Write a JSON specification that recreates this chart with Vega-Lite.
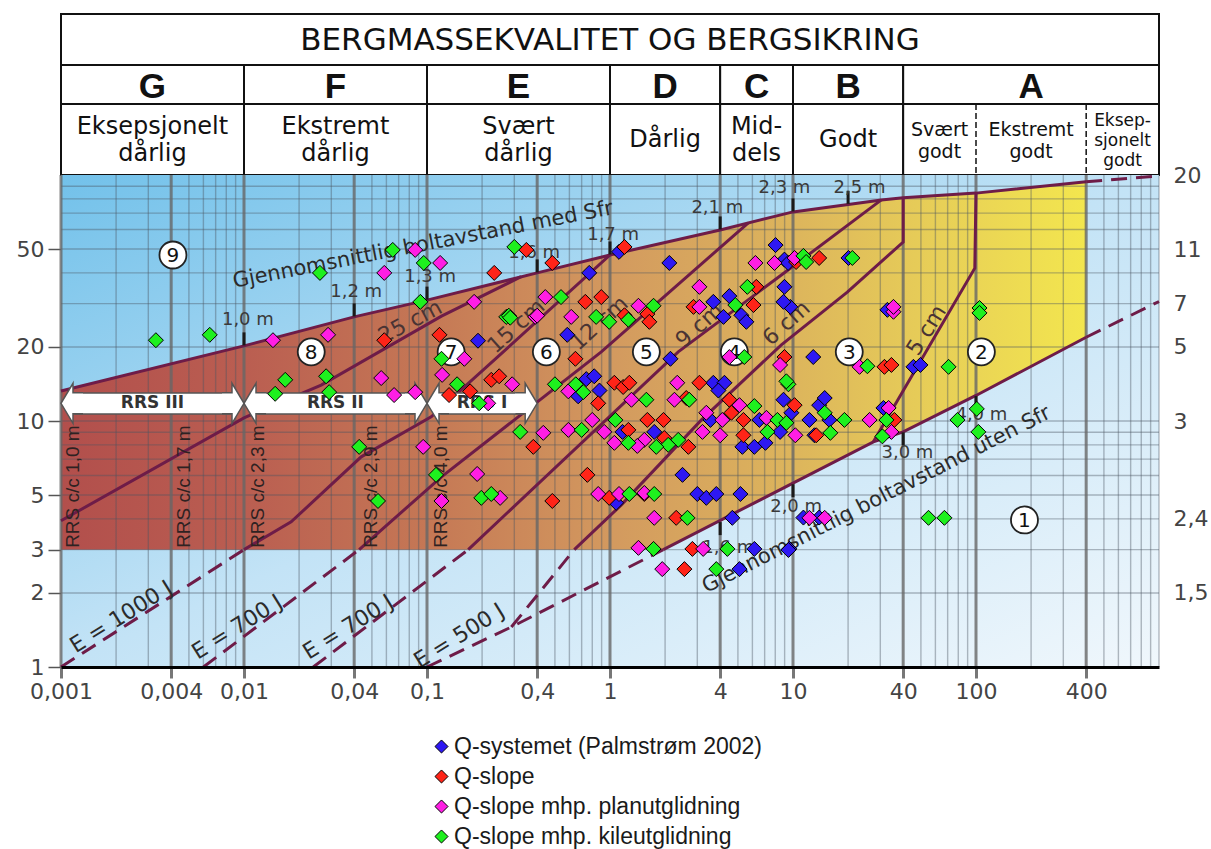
{
  "$schema": "https://vega.github.io/schema/vega-lite/v6.json",
  "background": "#ffffff",
  "padding": {"left": 16, "top": 13, "right": 0, "bottom": 0},
  "spacing": 0,
  "bounds": "flush",
  "config": {"font": "DejaVu Sans"},
  "resolve": {"scale": {"x": "independent"}},
  "datasets": {
    "klasser": [
      {"klasse": "G", "q1": 0.001, "q2": 0.01, "qm": 0.00316, "tekst": "Eksepsjonelt\ndårlig", "linjer": 2},
      {"klasse": "F", "q1": 0.01, "q2": 0.1, "qm": 0.0316, "tekst": "Ekstremt\ndårlig", "linjer": 2},
      {"klasse": "E", "q1": 0.1, "q2": 1, "qm": 0.316, "tekst": "Svært\ndårlig", "linjer": 2},
      {"klasse": "D", "q1": 1, "q2": 4, "qm": 2, "tekst": "Dårlig", "linjer": 1},
      {"klasse": "C", "q1": 4, "q2": 10, "qm": 6.32, "tekst": "Mid-\ndels", "linjer": 2},
      {"klasse": "B", "q1": 10, "q2": 40, "qm": 20, "tekst": "Godt", "linjer": 1},
      {"klasse": "A", "q1": 40, "q2": 1000, "qm": 200, "tekst": "", "linjer": 1}
    ],
    "underklasser": [
      {"q1": 40, "q2": 100, "qm": 63.2, "tekst": "Svært\ngodt", "linjer": 2},
      {"q1": 100, "q2": 400, "qm": 200, "tekst": "Ekstremt\ngodt", "linjer": 2},
      {"q1": 400, "q2": 1000, "qm": 632, "tekst": "Eksep-\nsjonelt\ngodt", "linjer": 3}
    ],
    "sone": [
      {"q": 0.001, "ovre": 13.24, "nedre": 3},
      {"q": 0.01, "ovre": 20.2, "nedre": 3},
      {"q": 0.04, "ovre": 26.5, "nedre": 3},
      {"q": 0.1, "ovre": 31.0, "nedre": 3},
      {"q": 0.4, "ovre": 40.0, "nedre": 3},
      {"q": 1, "ovre": 47.3, "nedre": 3},
      {"q": 1.955, "ovre": 52.9, "nedre": 3},
      {"q": 4, "ovre": 59.8, "nedre": 3.9},
      {"q": 10, "ovre": 70.8, "nedre": 5.56},
      {"q": 27.5, "ovre": 78.4, "nedre": 8.23},
      {"q": 30.4, "ovre": 79.2, "nedre": 8.43},
      {"q": 40, "ovre": 80.8, "nedre": 9.03},
      {"q": 100, "ovre": 84.4, "nedre": 12.7},
      {"q": 400, "ovre": 93.8, "nedre": 21.9}
    ],
    "finrutenett": [
      {"q": 0.002}, {"q": 0.003}, {"q": 0.005}, {"q": 0.006}, {"q": 0.007}, {"q": 0.008}, {"q": 0.009},
      {"q": 0.02}, {"q": 0.03}, {"q": 0.05}, {"q": 0.06}, {"q": 0.07}, {"q": 0.08}, {"q": 0.09},
      {"q": 0.2}, {"q": 0.3}, {"q": 0.5}, {"q": 0.6}, {"q": 0.7}, {"q": 0.8}, {"q": 0.9},
      {"q": 2}, {"q": 3}, {"q": 5}, {"q": 6}, {"q": 7}, {"q": 8}, {"q": 9},
      {"q": 20}, {"q": 30}, {"q": 50}, {"q": 60}, {"q": 70}, {"q": 80}, {"q": 90},
      {"q": 200}, {"q": 300}, {"q": 500}, {"q": 600}, {"q": 700}, {"q": 800}, {"q": 900}, {"q": 1000}
    ],
    "grovrutenett": [
      {"q": 0.001}, {"q": 0.004}, {"q": 0.01}, {"q": 0.04}, {"q": 0.1}, {"q": 0.4},
      {"q": 1}, {"q": 4}, {"q": 10}, {"q": 40}, {"q": 100}, {"q": 400}
    ],
    "esrrutenett": [
      {"esr": 2}, {"esr": 3}, {"esr": 4}, {"esr": 5}, {"esr": 6}, {"esr": 7}, {"esr": 8}, {"esr": 9},
      {"esr": 10}, {"esr": 20}, {"esr": 30}, {"esr": 40}, {"esr": 50}, {"esr": 60}, {"esr": 70}, {"esr": 80}, {"esr": 90}
    ],
    "heltrukne": [
      {"linje": "med Sfr", "q": 0.001, "esr": 13.24},
      {"linje": "med Sfr", "q": 0.01, "esr": 20.2},
      {"linje": "med Sfr", "q": 0.04, "esr": 26.5},
      {"linje": "med Sfr", "q": 0.1, "esr": 31.0},
      {"linje": "med Sfr", "q": 0.4, "esr": 40.0},
      {"linje": "med Sfr", "q": 1, "esr": 47.3},
      {"linje": "med Sfr", "q": 4, "esr": 59.8},
      {"linje": "med Sfr", "q": 10, "esr": 70.8},
      {"linje": "med Sfr", "q": 30.4, "esr": 79.2},
      {"linje": "med Sfr", "q": 40, "esr": 80.8},
      {"linje": "med Sfr", "q": 100, "esr": 84.4},
      {"linje": "med Sfr", "q": 400, "esr": 93.8},
      {"linje": "uten Sfr", "q": 1.955, "esr": 3},
      {"linje": "uten Sfr", "q": 27.5, "esr": 8.23},
      {"linje": "uten Sfr", "q": 40, "esr": 9.03},
      {"linje": "uten Sfr", "q": 100, "esr": 12.7},
      {"linje": "uten Sfr", "q": 400, "esr": 21.9},
      {"linje": "25 cm", "q": 0.001, "esr": 3.93},
      {"linje": "25 cm", "q": 0.01, "esr": 10.3},
      {"linje": "25 cm", "q": 0.0264, "esr": 14.0},
      {"linje": "25 cm", "q": 0.12, "esr": 26.7},
      {"linje": "25 cm", "q": 0.327, "esr": 38.6},
      {"linje": "15 cm", "q": 0.01, "esr": 3},
      {"linje": "15 cm", "q": 0.0181, "esr": 3.89},
      {"linje": "15 cm", "q": 0.0437, "esr": 7.15},
      {"linje": "15 cm", "q": 0.1054, "esr": 10.4},
      {"linje": "15 cm", "q": 0.261, "esr": 19.1},
      {"linje": "15 cm", "q": 1, "esr": 47.3},
      {"linje": "12 cm", "q": 0.0426, "esr": 3},
      {"linje": "12 cm", "q": 0.12, "esr": 5.93},
      {"linje": "12 cm", "q": 0.896, "esr": 19.1},
      {"linje": "12 cm", "q": 5.7, "esr": 63.9},
      {"linje": "9 cm", "q": 0.168, "esr": 3},
      {"linje": "9 cm", "q": 2.36, "esr": 19.1},
      {"linje": "9 cm", "q": 8.64, "esr": 39.2},
      {"linje": "9 cm", "q": 30.4, "esr": 79.2},
      {"linje": "6 cm", "q": 0.638, "esr": 3},
      {"linje": "6 cm", "q": 1.15, "esr": 4.55},
      {"linje": "6 cm", "q": 3.16, "esr": 10.1},
      {"linje": "6 cm", "q": 8.64, "esr": 20.4},
      {"linje": "6 cm", "q": 19.8, "esr": 33.4},
      {"linje": "6 cm", "q": 40, "esr": 53.4},
      {"linje": "6 cm", "q": 40, "esr": 80.8},
      {"linje": "5 cm", "q": 27.5, "esr": 8.23},
      {"linje": "5 cm", "q": 98.5, "esr": 41.8},
      {"linje": "5 cm", "q": 100, "esr": 84.4}
    ],
    "stiplede": [
      {"linje": "E1000", "q": 0.001, "esr": 1},
      {"linje": "E1000", "q": 0.01, "esr": 3},
      {"linje": "E700a", "q": 0.006, "esr": 1},
      {"linje": "E700a", "q": 0.0426, "esr": 3},
      {"linje": "E700b", "q": 0.0239, "esr": 1},
      {"linje": "E700b", "q": 0.168, "esr": 3},
      {"linje": "E500", "q": 0.1, "esr": 1},
      {"linje": "E500", "q": 0.289, "esr": 1.454},
      {"linje": "E500", "q": 1.955, "esr": 3},
      {"linje": "E500b", "q": 0.289, "esr": 1.454},
      {"linje": "E500b", "q": 0.638, "esr": 3},
      {"linje": "med Sfr forl", "q": 400, "esr": 93.8},
      {"linje": "med Sfr forl", "q": 1000, "esr": 99.2},
      {"linje": "uten Sfr forl", "q": 400, "esr": 21.9},
      {"linje": "uten Sfr forl", "q": 1000, "esr": 30.6}
    ],
    "merker_ovre": [
      {"q": 0.01, "esr": 20.2}, {"q": 0.04, "esr": 26.5}, {"q": 0.1, "esr": 31.0}, {"q": 0.4, "esr": 40.0},
      {"q": 1, "esr": 47.3}, {"q": 4, "esr": 59.8}, {"q": 10, "esr": 70.8}, {"q": 20, "esr": 76.0}
    ],
    "merker_nedre": [
      {"q": 4, "esr": 3.9}, {"q": 10, "esr": 5.56}, {"q": 40, "esr": 9.03}, {"q": 100, "esr": 12.7}
    ],
    "avstander": [
      {"tekst": "1,0 m", "q": 0.0105, "esr": 25.8},
      {"tekst": "1,2 m", "q": 0.041, "esr": 33.4},
      {"tekst": "1,3 m", "q": 0.104, "esr": 38.5},
      {"tekst": "1,6 m", "q": 0.385, "esr": 48.2},
      {"tekst": "1,7 m", "q": 1.04, "esr": 57.0},
      {"tekst": "2,1 m", "q": 3.86, "esr": 73.5},
      {"tekst": "2,3 m", "q": 8.98, "esr": 88.5},
      {"tekst": "2,5 m", "q": 23.1, "esr": 88.5},
      {"tekst": "1,6 m", "q": 4.43, "esr": 3.05},
      {"tekst": "2,0 m", "q": 10.4, "esr": 4.48},
      {"tekst": "3,0 m", "q": 42.2, "esr": 7.43},
      {"tekst": "4,0 m", "q": 107, "esr": 10.6}
    ],
    "rrs": [
      {"navn": "RRS III", "q1": 0.001, "q2": 0.01, "qm": 0.00316},
      {"navn": "RRS II", "q1": 0.01, "q2": 0.1, "qm": 0.0316},
      {"navn": "RRS I", "q1": 0.1, "q2": 0.4, "qm": 0.2}
    ],
    "rrs_avstand": [
      {"tekst": "RRS  c/c 1,0 m", "q": 0.00116},
      {"tekst": "RRS  c/c 1,7 m", "q": 0.0047},
      {"tekst": "RRS  c/c 2,3 m", "q": 0.0119},
      {"tekst": "RRS  c/c 2,9 m", "q": 0.0496},
      {"tekst": "RRS  c/c 4,0 m", "q": 0.1197}
    ],
    "energi": [
      {"tekst": "E = 1000 J", "q": 0.00213, "esr": 1.6},
      {"tekst": "E = 700 J", "q": 0.00918, "esr": 1.454},
      {"tekst": "E = 700 J", "q": 0.0371, "esr": 1.454},
      {"tekst": "E = 500 J", "q": 0.15, "esr": 1.338}
    ],
    "soner": [
      {"nr": "9", "q": 0.00409, "esr": 47.3},
      {"nr": "8", "q": 0.0233, "esr": 19.1},
      {"nr": "7", "q": 0.1355, "esr": 19.1},
      {"nr": "6", "q": 0.449, "esr": 19.1},
      {"nr": "5", "q": 1.58, "esr": 19.1},
      {"nr": "4", "q": 4.78, "esr": 19.1},
      {"nr": "3", "q": 20.3, "esr": 19.1},
      {"nr": "2", "q": 107, "esr": 19.1},
      {"nr": "1", "q": 184, "esr": 3.96}
    ],
    "punkter": [
      {"serie": "Q-systemet (Palmstrøm 2002)", "q": 0.77, "esr": 40.0},
      {"serie": "Q-systemet (Palmstrøm 2002)", "q": 1.12, "esr": 48.7},
      {"serie": "Q-systemet (Palmstrøm 2002)", "q": 0.19, "esr": 21.2},
      {"serie": "Q-systemet (Palmstrøm 2002)", "q": 0.584, "esr": 22.4},
      {"serie": "Q-systemet (Palmstrøm 2002)", "q": 0.742, "esr": 14.8},
      {"serie": "Q-systemet (Palmstrøm 2002)", "q": 0.82, "esr": 15.2},
      {"serie": "Q-systemet (Palmstrøm 2002)", "q": 0.876, "esr": 13.3},
      {"serie": "Q-systemet (Palmstrøm 2002)", "q": 0.67, "esr": 12.6},
      {"serie": "Q-systemet (Palmstrøm 2002)", "q": 1.17, "esr": 9.03},
      {"serie": "Q-systemet (Palmstrøm 2002)", "q": 1.745, "esr": 9.03},
      {"serie": "Q-systemet (Palmstrøm 2002)", "q": 1.08, "esr": 4.65},
      {"serie": "Q-systemet (Palmstrøm 2002)", "q": 2.11, "esr": 43.9},
      {"serie": "Q-systemet (Palmstrøm 2002)", "q": 2.14, "esr": 17.9},
      {"serie": "Q-systemet (Palmstrøm 2002)", "q": 2.49, "esr": 6.04},
      {"serie": "Q-systemet (Palmstrøm 2002)", "q": 3.0, "esr": 5.05},
      {"serie": "Q-systemet (Palmstrøm 2002)", "q": 3.36, "esr": 4.87},
      {"serie": "Q-systemet (Palmstrøm 2002)", "q": 3.81, "esr": 5.05},
      {"serie": "Q-systemet (Palmstrøm 2002)", "q": 5.16, "esr": 5.05},
      {"serie": "Q-systemet (Palmstrøm 2002)", "q": 4.66, "esr": 4.04},
      {"serie": "Q-systemet (Palmstrøm 2002)", "q": 6.15, "esr": 3.02},
      {"serie": "Q-systemet (Palmstrøm 2002)", "q": 9.55, "esr": 3.02},
      {"serie": "Q-systemet (Palmstrøm 2002)", "q": 5.1, "esr": 2.5},
      {"serie": "Q-systemet (Palmstrøm 2002)", "q": 3.67, "esr": 14.3},
      {"serie": "Q-systemet (Palmstrøm 2002)", "q": 4.22, "esr": 14.3},
      {"serie": "Q-systemet (Palmstrøm 2002)", "q": 3.91, "esr": 13.3},
      {"serie": "Q-systemet (Palmstrøm 2002)", "q": 8.87, "esr": 12.2},
      {"serie": "Q-systemet (Palmstrøm 2002)", "q": 13.9, "esr": 11.6},
      {"serie": "Q-systemet (Palmstrøm 2002)", "q": 3.54, "esr": 10.1},
      {"serie": "Q-systemet (Palmstrøm 2002)", "q": 6.55, "esr": 10.1},
      {"serie": "Q-systemet (Palmstrøm 2002)", "q": 5.29, "esr": 7.85},
      {"serie": "Q-systemet (Palmstrøm 2002)", "q": 6.15, "esr": 7.85},
      {"serie": "Q-systemet (Palmstrøm 2002)", "q": 7.07, "esr": 8.15},
      {"serie": "Q-systemet (Palmstrøm 2002)", "q": 8.5, "esr": 9.03},
      {"serie": "Q-systemet (Palmstrøm 2002)", "q": 12.3, "esr": 10.1},
      {"serie": "Q-systemet (Palmstrøm 2002)", "q": 9.8, "esr": 10.8},
      {"serie": "Q-systemet (Palmstrøm 2002)", "q": 14.9, "esr": 12.4},
      {"serie": "Q-systemet (Palmstrøm 2002)", "q": 15.8, "esr": 10.1},
      {"serie": "Q-systemet (Palmstrøm 2002)", "q": 13.1, "esr": 8.75},
      {"serie": "Q-systemet (Palmstrøm 2002)", "q": 31.2, "esr": 11.3},
      {"serie": "Q-systemet (Palmstrøm 2002)", "q": 11.4, "esr": 4.05},
      {"serie": "Q-systemet (Palmstrøm 2002)", "q": 13.9, "esr": 4.05},
      {"serie": "Q-systemet (Palmstrøm 2002)", "q": 9.44, "esr": 2.99},
      {"serie": "Q-systemet (Palmstrøm 2002)", "q": 45.5, "esr": 16.6},
      {"serie": "Q-systemet (Palmstrøm 2002)", "q": 49.7, "esr": 16.9},
      {"serie": "Q-systemet (Palmstrøm 2002)", "q": 8.98, "esr": 45.3},
      {"serie": "Q-systemet (Palmstrøm 2002)", "q": 9.4, "esr": 43.9},
      {"serie": "Q-systemet (Palmstrøm 2002)", "q": 20.1, "esr": 46.0},
      {"serie": "Q-systemet (Palmstrøm 2002)", "q": 8.98, "esr": 35.1},
      {"serie": "Q-systemet (Palmstrøm 2002)", "q": 9.67, "esr": 29.1},
      {"serie": "Q-systemet (Palmstrøm 2002)", "q": 8.87, "esr": 30.5},
      {"serie": "Q-systemet (Palmstrøm 2002)", "q": 32.8, "esr": 28.3},
      {"serie": "Q-systemet (Palmstrøm 2002)", "q": 12.9, "esr": 18.2},
      {"serie": "Q-systemet (Palmstrøm 2002)", "q": 8.03, "esr": 51.9},
      {"serie": "Q-systemet (Palmstrøm 2002)", "q": 4.49, "esr": 32.2},
      {"serie": "Q-systemet (Palmstrøm 2002)", "q": 3.67, "esr": 30.5},
      {"serie": "Q-systemet (Palmstrøm 2002)", "q": 4.17, "esr": 26.5},
      {"serie": "Q-systemet (Palmstrøm 2002)", "q": 5.22, "esr": 26.9},
      {"serie": "Q-systemet (Palmstrøm 2002)", "q": 5.56, "esr": 25.3},
      {"serie": "Q-slope", "q": 0.0584, "esr": 21.3},
      {"serie": "Q-slope", "q": 0.349, "esr": 49.6},
      {"serie": "Q-slope", "q": 0.484, "esr": 43.9},
      {"serie": "Q-slope", "q": 0.233, "esr": 40.0},
      {"serie": "Q-slope", "q": 1.2, "esr": 51.0},
      {"serie": "Q-slope", "q": 0.117, "esr": 22.4},
      {"serie": "Q-slope", "q": 0.733, "esr": 30.5},
      {"serie": "Q-slope", "q": 0.896, "esr": 31.9},
      {"serie": "Q-slope", "q": 0.647, "esr": 17.9},
      {"serie": "Q-slope", "q": 0.132, "esr": 12.75},
      {"serie": "Q-slope", "q": 0.172, "esr": 13.2},
      {"serie": "Q-slope", "q": 0.2245, "esr": 14.7},
      {"serie": "Q-slope", "q": 0.248, "esr": 15.2},
      {"serie": "Q-slope", "q": 0.862, "esr": 11.8},
      {"serie": "Q-slope", "q": 1.056, "esr": 14.3},
      {"serie": "Q-slope", "q": 1.18, "esr": 13.75},
      {"serie": "Q-slope", "q": 1.275, "esr": 14.3},
      {"serie": "Q-slope", "q": 0.381, "esr": 7.85},
      {"serie": "Q-slope", "q": 1.26, "esr": 9.2},
      {"serie": "Q-slope", "q": 0.752, "esr": 6.04},
      {"serie": "Q-slope", "q": 0.484, "esr": 4.73},
      {"serie": "Q-slope", "q": 0.99, "esr": 4.87},
      {"serie": "Q-slope", "q": 1.6, "esr": 10.1},
      {"serie": "Q-slope", "q": 1.96, "esr": 10.1},
      {"serie": "Q-slope", "q": 2.68, "esr": 7.85},
      {"serie": "Q-slope", "q": 1.98, "esr": 8.53},
      {"serie": "Q-slope", "q": 3.08, "esr": 14.3},
      {"serie": "Q-slope", "q": 2.61, "esr": 12.4},
      {"serie": "Q-slope", "q": 4.49, "esr": 12.2},
      {"serie": "Q-slope", "q": 10.2, "esr": 11.6},
      {"serie": "Q-slope", "q": 4.61, "esr": 10.8},
      {"serie": "Q-slope", "q": 5.36, "esr": 10.1},
      {"serie": "Q-slope", "q": 5.36, "esr": 8.75},
      {"serie": "Q-slope", "q": 13.4, "esr": 8.75},
      {"serie": "Q-slope", "q": 1.54, "esr": 5.05},
      {"serie": "Q-slope", "q": 2.3, "esr": 4.04},
      {"serie": "Q-slope", "q": 2.82, "esr": 3.02},
      {"serie": "Q-slope", "q": 2.55, "esr": 2.5},
      {"serie": "Q-slope", "q": 35.8, "esr": 10.1},
      {"serie": "Q-slope", "q": 10.4, "esr": 44.3},
      {"serie": "Q-slope", "q": 13.9, "esr": 46.0},
      {"serie": "Q-slope", "q": 8.98, "esr": 18.2},
      {"serie": "Q-slope", "q": 31.6, "esr": 16.6},
      {"serie": "Q-slope", "q": 34.5, "esr": 16.9},
      {"serie": "Q-slope", "q": 2.86, "esr": 29.1},
      {"serie": "Q-slope", "q": 6.08, "esr": 29.6},
      {"serie": "Q-slope", "q": 6.3, "esr": 35.1},
      {"serie": "Q-slope", "q": 1.6, "esr": 27.2},
      {"serie": "Q-slope", "q": 1.64, "esr": 25.3},
      {"serie": "Q-slope", "q": 1.2, "esr": 26.9},
      {"serie": "Q-slope mhp. planutglidning", "q": 0.0144, "esr": 21.3},
      {"serie": "Q-slope mhp. planutglidning", "q": 0.0288, "esr": 22.4},
      {"serie": "Q-slope mhp. planutglidning", "q": 0.0584, "esr": 40.0},
      {"serie": "Q-slope mhp. planutglidning", "q": 0.0862, "esr": 49.6},
      {"serie": "Q-slope mhp. planutglidning", "q": 0.118, "esr": 43.9},
      {"serie": "Q-slope mhp. planutglidning", "q": 0.0562, "esr": 14.95},
      {"serie": "Q-slope mhp. planutglidning", "q": 0.121, "esr": 15.4},
      {"serie": "Q-slope mhp. planutglidning", "q": 0.181, "esr": 30.5},
      {"serie": "Q-slope mhp. planutglidning", "q": 0.443, "esr": 31.9},
      {"serie": "Q-slope mhp. planutglidning", "q": 1.43, "esr": 29.4},
      {"serie": "Q-slope mhp. planutglidning", "q": 0.39, "esr": 26.5},
      {"serie": "Q-slope mhp. planutglidning", "q": 0.4, "esr": 26.8},
      {"serie": "Q-slope mhp. planutglidning", "q": 0.614, "esr": 26.5},
      {"serie": "Q-slope mhp. planutglidning", "q": 0.16, "esr": 17.9},
      {"serie": "Q-slope mhp. planutglidning", "q": 0.292, "esr": 14.1},
      {"serie": "Q-slope mhp. planutglidning", "q": 0.0661, "esr": 12.75},
      {"serie": "Q-slope mhp. planutglidning", "q": 0.0862, "esr": 13.1},
      {"serie": "Q-slope mhp. planutglidning", "q": 0.216, "esr": 11.8},
      {"serie": "Q-slope mhp. planutglidning", "q": 0.592, "esr": 13.2},
      {"serie": "Q-slope mhp. planutglidning", "q": 1.31, "esr": 12.2},
      {"serie": "Q-slope mhp. planutglidning", "q": 0.432, "esr": 8.95},
      {"serie": "Q-slope mhp. planutglidning", "q": 0.592, "esr": 9.2},
      {"serie": "Q-slope mhp. planutglidning", "q": 0.8, "esr": 10.1},
      {"serie": "Q-slope mhp. planutglidning", "q": 0.93, "esr": 9.03},
      {"serie": "Q-slope mhp. planutglidning", "q": 1.056, "esr": 8.15},
      {"serie": "Q-slope mhp. planutglidning", "q": 1.54, "esr": 8.38},
      {"serie": "Q-slope mhp. planutglidning", "q": 1.41, "esr": 7.92},
      {"serie": "Q-slope mhp. planutglidning", "q": 0.0953, "esr": 7.85},
      {"serie": "Q-slope mhp. planutglidning", "q": 0.188, "esr": 6.09},
      {"serie": "Q-slope mhp. planutglidning", "q": 0.12, "esr": 4.73},
      {"serie": "Q-slope mhp. planutglidning", "q": 0.251, "esr": 4.87},
      {"serie": "Q-slope mhp. planutglidning", "q": 0.862, "esr": 5.05},
      {"serie": "Q-slope mhp. planutglidning", "q": 1.12, "esr": 5.05},
      {"serie": "Q-slope mhp. planutglidning", "q": 1.54, "esr": 5.1},
      {"serie": "Q-slope mhp. planutglidning", "q": 1.43, "esr": 3.05},
      {"serie": "Q-slope mhp. planutglidning", "q": 1.745, "esr": 4.04},
      {"serie": "Q-slope mhp. planutglidning", "q": 3.23, "esr": 3.02},
      {"serie": "Q-slope mhp. planutglidning", "q": 1.93, "esr": 2.5},
      {"serie": "Q-slope mhp. planutglidning", "q": 2.33, "esr": 14.3},
      {"serie": "Q-slope mhp. planutglidning", "q": 2.25, "esr": 12.2},
      {"serie": "Q-slope mhp. planutglidning", "q": 3.36, "esr": 10.8},
      {"serie": "Q-slope mhp. planutglidning", "q": 3.2, "esr": 9.03},
      {"serie": "Q-slope mhp. planutglidning", "q": 4.11, "esr": 10.1},
      {"serie": "Q-slope mhp. planutglidning", "q": 4.0, "esr": 8.75},
      {"serie": "Q-slope mhp. planutglidning", "q": 5.1, "esr": 11.6},
      {"serie": "Q-slope mhp. planutglidning", "q": 7.16, "esr": 10.3},
      {"serie": "Q-slope mhp. planutglidning", "q": 10.3, "esr": 8.75},
      {"serie": "Q-slope mhp. planutglidning", "q": 12.3, "esr": 4.04},
      {"serie": "Q-slope mhp. planutglidning", "q": 14.9, "esr": 4.04},
      {"serie": "Q-slope mhp. planutglidning", "q": 26.2, "esr": 10.1},
      {"serie": "Q-slope mhp. planutglidning", "q": 33.3, "esr": 11.3},
      {"serie": "Q-slope mhp. planutglidning", "q": 34.5, "esr": 9.03},
      {"serie": "Q-slope mhp. planutglidning", "q": 10.2, "esr": 46.0},
      {"serie": "Q-slope mhp. planutglidning", "q": 35.4, "esr": 27.8},
      {"serie": "Q-slope mhp. planutglidning", "q": 35.4, "esr": 29.1},
      {"serie": "Q-slope mhp. planutglidning", "q": 8.5, "esr": 16.9},
      {"serie": "Q-slope mhp. planutglidning", "q": 23.1, "esr": 16.6},
      {"serie": "Q-slope mhp. planutglidning", "q": 3.08, "esr": 35.1},
      {"serie": "Q-slope mhp. planutglidning", "q": 3.08, "esr": 29.1},
      {"serie": "Q-slope mhp. planutglidning", "q": 4.49, "esr": 18.2},
      {"serie": "Q-slope mhp. planutglidning", "q": 6.23, "esr": 43.9},
      {"serie": "Q-slope mhp. planutglidning", "q": 7.92, "esr": 43.9},
      {"serie": "Q-slope mhp. kileutglidning", "q": 0.0033, "esr": 21.3},
      {"serie": "Q-slope mhp. kileutglidning", "q": 0.0065, "esr": 22.4},
      {"serie": "Q-slope mhp. kileutglidning", "q": 0.026, "esr": 40.0},
      {"serie": "Q-slope mhp. kileutglidning", "q": 0.065, "esr": 49.6},
      {"serie": "Q-slope mhp. kileutglidning", "q": 0.096, "esr": 43.9},
      {"serie": "Q-slope mhp. kileutglidning", "q": 0.092, "esr": 30.5},
      {"serie": "Q-slope mhp. kileutglidning", "q": 0.0168, "esr": 14.7},
      {"serie": "Q-slope mhp. kileutglidning", "q": 0.0281, "esr": 15.2},
      {"serie": "Q-slope mhp. kileutglidning", "q": 0.0148, "esr": 12.9},
      {"serie": "Q-slope mhp. kileutglidning", "q": 0.0292, "esr": 13.1},
      {"serie": "Q-slope mhp. kileutglidning", "q": 0.12, "esr": 17.9},
      {"serie": "Q-slope mhp. kileutglidning", "q": 0.3, "esr": 51.0},
      {"serie": "Q-slope mhp. kileutglidning", "q": 0.54, "esr": 31.9},
      {"serie": "Q-slope mhp. kileutglidning", "q": 0.271, "esr": 26.5},
      {"serie": "Q-slope mhp. kileutglidning", "q": 0.28, "esr": 26.8},
      {"serie": "Q-slope mhp. kileutglidning", "q": 0.285, "esr": 26.3},
      {"serie": "Q-slope mhp. kileutglidning", "q": 0.84, "esr": 26.5},
      {"serie": "Q-slope mhp. kileutglidning", "q": 0.99, "esr": 25.3},
      {"serie": "Q-slope mhp. kileutglidning", "q": 1.26, "esr": 25.8},
      {"serie": "Q-slope mhp. kileutglidning", "q": 1.73, "esr": 29.4},
      {"serie": "Q-slope mhp. kileutglidning", "q": 0.146, "esr": 14.1},
      {"serie": "Q-slope mhp. kileutglidning", "q": 0.193, "esr": 11.8},
      {"serie": "Q-slope mhp. kileutglidning", "q": 0.5, "esr": 14.1},
      {"serie": "Q-slope mhp. kileutglidning", "q": 0.65, "esr": 14.1},
      {"serie": "Q-slope mhp. kileutglidning", "q": 0.715, "esr": 13.1},
      {"serie": "Q-slope mhp. kileutglidning", "q": 1.58, "esr": 12.2},
      {"serie": "Q-slope mhp. kileutglidning", "q": 0.323, "esr": 9.03},
      {"serie": "Q-slope mhp. kileutglidning", "q": 0.7, "esr": 9.2},
      {"serie": "Q-slope mhp. kileutglidning", "q": 1.07, "esr": 10.1},
      {"serie": "Q-slope mhp. kileutglidning", "q": 1.26, "esr": 8.15},
      {"serie": "Q-slope mhp. kileutglidning", "q": 0.0426, "esr": 7.85},
      {"serie": "Q-slope mhp. kileutglidning", "q": 0.112, "esr": 6.04},
      {"serie": "Q-slope mhp. kileutglidning", "q": 0.054, "esr": 4.73},
      {"serie": "Q-slope mhp. kileutglidning", "q": 0.198, "esr": 4.87},
      {"serie": "Q-slope mhp. kileutglidning", "q": 0.2245, "esr": 5.05},
      {"serie": "Q-slope mhp. kileutglidning", "q": 1.275, "esr": 5.05},
      {"serie": "Q-slope mhp. kileutglidning", "q": 1.745, "esr": 5.05},
      {"serie": "Q-slope mhp. kileutglidning", "q": 2.71, "esr": 12.2},
      {"serie": "Q-slope mhp. kileutglidning", "q": 2.36, "esr": 8.38},
      {"serie": "Q-slope mhp. kileutglidning", "q": 2.08, "esr": 8.0},
      {"serie": "Q-slope mhp. kileutglidning", "q": 1.79, "esr": 7.85},
      {"serie": "Q-slope mhp. kileutglidning", "q": 6.15, "esr": 11.5},
      {"serie": "Q-slope mhp. kileutglidning", "q": 7.25, "esr": 9.03},
      {"serie": "Q-slope mhp. kileutglidning", "q": 8.22, "esr": 10.1},
      {"serie": "Q-slope mhp. kileutglidning", "q": 9.2, "esr": 9.83},
      {"serie": "Q-slope mhp. kileutglidning", "q": 2.65, "esr": 4.04},
      {"serie": "Q-slope mhp. kileutglidning", "q": 1.73, "esr": 3.02},
      {"serie": "Q-slope mhp. kileutglidning", "q": 4.38, "esr": 3.02},
      {"serie": "Q-slope mhp. kileutglidning", "q": 3.81, "esr": 2.5},
      {"serie": "Q-slope mhp. kileutglidning", "q": 9.44, "esr": 14.1},
      {"serie": "Q-slope mhp. kileutglidning", "q": 14.9, "esr": 10.8},
      {"serie": "Q-slope mhp. kileutglidning", "q": 19.1, "esr": 10.1},
      {"serie": "Q-slope mhp. kileutglidning", "q": 16.0, "esr": 8.95},
      {"serie": "Q-slope mhp. kileutglidning", "q": 32.4, "esr": 10.1},
      {"serie": "Q-slope mhp. kileutglidning", "q": 30.8, "esr": 8.66},
      {"serie": "Q-slope mhp. kileutglidning", "q": 79.2, "esr": 10.1},
      {"serie": "Q-slope mhp. kileutglidning", "q": 101, "esr": 11.2},
      {"serie": "Q-slope mhp. kileutglidning", "q": 103, "esr": 9.03},
      {"serie": "Q-slope mhp. kileutglidning", "q": 55.0, "esr": 4.04},
      {"serie": "Q-slope mhp. kileutglidning", "q": 67.2, "esr": 4.04},
      {"serie": "Q-slope mhp. kileutglidning", "q": 11.4, "esr": 46.9},
      {"serie": "Q-slope mhp. kileutglidning", "q": 11.8, "esr": 44.3},
      {"serie": "Q-slope mhp. kileutglidning", "q": 21.1, "esr": 46.0},
      {"serie": "Q-slope mhp. kileutglidning", "q": 104.5, "esr": 28.8},
      {"serie": "Q-slope mhp. kileutglidning", "q": 104.5, "esr": 27.5},
      {"serie": "Q-slope mhp. kileutglidning", "q": 25.5, "esr": 16.7},
      {"serie": "Q-slope mhp. kileutglidning", "q": 70.8, "esr": 16.6},
      {"serie": "Q-slope mhp. kileutglidning", "q": 4.84, "esr": 29.6},
      {"serie": "Q-slope mhp. kileutglidning", "q": 5.63, "esr": 35.1},
      {"serie": "Q-slope mhp. kileutglidning", "q": 5.42, "esr": 18.2},
      {"serie": "Q-slope mhp. kileutglidning", "q": 9.2, "esr": 14.5}
    ]
  },
  "vconcat": [
    {
      "width": 1098,
      "height": 51,
      "view": {"stroke": "#111111", "strokeWidth": 2},
      "data": {"values": [{"tittel": "BERGMASSEKVALITET OG BERGSIKRING"}]},
      "mark": {"type": "text", "font": "DejaVu Sans", "fontSize": 31, "color": "#111111", "baseline": "middle", "align": "center", "dy": 1},
      "encoding": {"text": {"field": "tittel"}}
    },
    {
      "width": 1098,
      "height": 39,
      "view": {"stroke": "#111111", "strokeWidth": 2},
      "data": {"name": "klasser"},
      "layer": [
        {
          "mark": {"type": "rect", "fill": "#ffffff", "stroke": "#111111", "strokeWidth": 2},
          "encoding": {
            "x": {"field": "q1", "type": "quantitative", "scale": {"type": "log", "domain": [0.001, 1000], "nice": false}, "axis": null},
            "x2": {"field": "q2"}
          }
        },
        {
          "mark": {"type": "text", "font": "Liberation Sans", "fontWeight": "bold", "fontSize": 35, "color": "#111111", "baseline": "middle", "align": "center", "dy": 2},
          "encoding": {
            "x": {"field": "qm", "type": "quantitative", "scale": {"type": "log", "domain": [0.001, 1000], "nice": false}, "axis": null},
            "text": {"field": "klasse"}
          }
        }
      ]
    },
    {
      "width": 1098,
      "height": 71,
      "view": {"stroke": "#111111", "strokeWidth": 2},
      "layer": [
        {
          "data": {"name": "klasser"},
          "mark": {"type": "rect", "fill": "#ffffff", "stroke": "#111111", "strokeWidth": 2},
          "encoding": {
            "x": {"field": "q1", "type": "quantitative", "scale": {"type": "log", "domain": [0.001, 1000], "nice": false}, "axis": null},
            "x2": {"field": "q2"}
          }
        },
        {
          "data": {"name": "underklasser"},
          "transform": [{"filter": "datum.q1 > 40"}],
          "mark": {"type": "rule", "stroke": "#111111", "strokeWidth": 1.5, "strokeDash": [6, 3]},
          "encoding": {
            "x": {"field": "q1", "type": "quantitative", "scale": {"type": "log", "domain": [0.001, 1000], "nice": false}, "axis": null}
          }
        },
        {
          "data": {"name": "klasser"},
          "transform": [{"filter": "datum.linjer == 1"}],
          "mark": {"type": "text", "font": "DejaVu Sans", "fontSize": 24, "color": "#111111", "baseline": "middle", "align": "center"},
          "encoding": {
            "x": {"field": "qm", "type": "quantitative", "scale": {"type": "log", "domain": [0.001, 1000], "nice": false}, "axis": null},
            "text": {"field": "tekst"}
          }
        },
        {
          "data": {"name": "klasser"},
          "transform": [{"filter": "datum.linjer == 2"}],
          "mark": {"type": "text", "font": "DejaVu Sans", "fontSize": 24, "lineHeight": 27, "lineBreak": "\n", "color": "#111111", "baseline": "middle", "align": "center", "dy": -13},
          "encoding": {
            "x": {"field": "qm", "type": "quantitative", "scale": {"type": "log", "domain": [0.001, 1000], "nice": false}, "axis": null},
            "text": {"field": "tekst"}
          }
        },
        {
          "data": {"name": "underklasser"},
          "transform": [{"filter": "datum.linjer == 2"}],
          "mark": {"type": "text", "font": "DejaVu Sans", "fontSize": 19, "lineHeight": 22, "lineBreak": "\n", "color": "#111111", "baseline": "middle", "align": "center", "dy": -10},
          "encoding": {
            "x": {"field": "qm", "type": "quantitative", "scale": {"type": "log", "domain": [0.001, 1000], "nice": false}, "axis": null},
            "text": {"field": "tekst"}
          }
        },
        {
          "data": {"name": "underklasser"},
          "transform": [{"filter": "datum.linjer == 3"}],
          "mark": {"type": "text", "font": "DejaVu Sans", "fontSize": 17, "lineHeight": 20, "lineBreak": "\n", "color": "#111111", "baseline": "middle", "align": "center", "dy": -19},
          "encoding": {
            "x": {"field": "qm", "type": "quantitative", "scale": {"type": "log", "domain": [0.001, 1000], "nice": false}, "axis": null},
            "text": {"field": "tekst"}
          }
        }
      ]
    },
    {
      "width": 1098,
      "height": 492,
      "view": {"stroke": null},
      "resolve": {"axis": {"y": "independent"}},
      "layer": [
        {
          "data": {"values": [{"flate": "bakgrunn"}]},
          "mark": {
            "type": "rect",
            "fill": {"gradient": "linear", "x1": 0, "y1": 0, "x2": 1, "y2": 1, "stops": [
              {"offset": 0, "color": "#72c1ea"},
              {"offset": 0.5, "color": "#c3e3f6"},
              {"offset": 1, "color": "#f0f7fc"}
            ]}
          },
          "encoding": {
            "x": {"datum": 0.001, "type": "quantitative", "scale": {"type": "log", "domain": [0.001, 1000], "nice": false}, "title": null,
              "axis": {"values": [0.001, 0.004, 0.01, 0.04, 0.1, 0.4, 1, 4, 10, 40, 100, 400], "labelExpr": "replace(toString(datum.value), '.', ',')", "grid": false, "domain": true, "domainColor": "#000000", "domainWidth": 3, "ticks": true, "tickColor": "#777777", "tickWidth": 3, "tickSize": 11, "labelFont": "DejaVu Sans", "labelFontSize": 22, "labelColor": "#444444", "labelPadding": 3, "labelFlush": false, "labelOverlap": false, "zindex": 1, "title": null}},
            "x2": {"datum": 1000},
            "y": {"datum": 1, "type": "quantitative", "scale": {"type": "log", "domain": [1, 100], "nice": false}, "axis": null},
            "y2": {"datum": 100}
          }
        },
        {
          "data": {"name": "sone"},
          "mark": {
            "type": "area",
            "fill": {"gradient": "linear", "x1": 0, "y1": 0, "x2": 1, "y2": 0, "stops": [
              {"offset": 0, "color": "#b24f4c"},
              {"offset": 0.18, "color": "#ba5e51"},
              {"offset": 0.36, "color": "#c57855"},
              {"offset": 0.54, "color": "#d39a5f"},
              {"offset": 0.72, "color": "#ddb65c"},
              {"offset": 0.86, "color": "#e8d057"},
              {"offset": 1, "color": "#f3e64e"}
            ]}
          },
          "encoding": {
            "x": {"field": "q", "type": "quantitative", "scale": {"type": "log", "domain": [0.001, 1000], "nice": false}, "title": null},
            "y": {"field": "ovre", "type": "quantitative", "scale": {"type": "log", "domain": [1, 100], "nice": false}, "axis": null},
            "y2": {"field": "nedre"}
          }
        },
        {
          "data": {"name": "finrutenett"},
          "mark": {"type": "rule", "stroke": "#4a5662", "strokeWidth": 1.4, "opacity": 0.4},
          "encoding": {
            "x": {"field": "q", "type": "quantitative", "scale": {"type": "log", "domain": [0.001, 1000], "nice": false}, "title": null}
          }
        },
        {
          "data": {"name": "esrrutenett"},
          "mark": {"type": "rule", "stroke": "#4a5662", "strokeWidth": 1.4, "opacity": 0.4},
          "encoding": {
            "y": {"field": "esr", "type": "quantitative", "scale": {"type": "log", "domain": [1, 100], "nice": false}, "title": null,
              "axis": {"orient": "right", "values": [2, 4, 10, 20, 30, 50, 100], "labelExpr": "datum.value == 2 ? '1,5' : datum.value == 4 ? '2,4' : datum.value == 10 ? '3' : datum.value == 20 ? '5' : datum.value == 30 ? '7' : datum.value == 50 ? '11' : '20'", "domain": false, "ticks": false, "grid": false, "labelPadding": 14, "labelFont": "DejaVu Sans", "labelFontSize": 22, "labelColor": "#444444", "labelFlush": false, "labelOverlap": false, "title": null}}
          }
        },
        {
          "data": {"name": "grovrutenett"},
          "mark": {"type": "rule", "stroke": "#666666", "strokeWidth": 3, "opacity": 0.8},
          "encoding": {
            "x": {"field": "q", "type": "quantitative", "scale": {"type": "log", "domain": [0.001, 1000], "nice": false}, "title": null}
          }
        },
        {
          "data": {"name": "stiplede"},
          "mark": {"type": "line", "stroke": "#6e1c48", "strokeWidth": 3, "strokeDash": [16, 9]},
          "encoding": {
            "x": {"field": "q", "type": "quantitative", "scale": {"type": "log", "domain": [0.001, 1000], "nice": false}, "title": null},
            "y": {"field": "esr", "type": "quantitative", "scale": {"type": "log", "domain": [1, 100], "nice": false}, "axis": null},
            "detail": {"field": "linje"},
            "order": {"value": null}
          }
        },
        {
          "data": {"name": "heltrukne"},
          "mark": {"type": "line", "stroke": "#6e1c48", "strokeWidth": 3},
          "encoding": {
            "x": {"field": "q", "type": "quantitative", "scale": {"type": "log", "domain": [0.001, 1000], "nice": false}, "title": null},
            "y": {"field": "esr", "type": "quantitative", "scale": {"type": "log", "domain": [1, 100], "nice": false}, "axis": null},
            "detail": {"field": "linje"},
            "order": {"value": null}
          }
        },
        {
          "data": {"name": "merker_ovre"},
          "mark": {"type": "tick", "orient": "vertical", "size": 13, "thickness": 3, "color": "#1a1a1a", "yOffset": -7, "opacity": 1},
          "encoding": {
            "x": {"field": "q", "type": "quantitative", "scale": {"type": "log", "domain": [0.001, 1000], "nice": false}, "title": null},
            "y": {"field": "esr", "type": "quantitative", "scale": {"type": "log", "domain": [1, 100], "nice": false}, "axis": null}
          }
        },
        {
          "data": {"name": "merker_nedre"},
          "mark": {"type": "tick", "orient": "vertical", "size": 13, "thickness": 3, "color": "#1a1a1a", "yOffset": 7, "opacity": 1},
          "encoding": {
            "x": {"field": "q", "type": "quantitative", "scale": {"type": "log", "domain": [0.001, 1000], "nice": false}, "title": null},
            "y": {"field": "esr", "type": "quantitative", "scale": {"type": "log", "domain": [1, 100], "nice": false}, "axis": null}
          }
        },
        {
          "data": {"values": [{"tekst": "Gjennomsnittlig boltavstand med Sfr", "q": 0.095, "esr": 51.9}]},
          "mark": {"type": "text", "font": "DejaVu Sans", "fontSize": 21, "color": "#2b2b2b", "angle": 349, "align": "center", "baseline": "middle"},
          "encoding": {
            "x": {"field": "q", "type": "quantitative", "scale": {"type": "log", "domain": [0.001, 1000], "nice": false}, "title": null},
            "y": {"field": "esr", "type": "quantitative", "scale": {"type": "log", "domain": [1, 100], "nice": false}, "axis": null},
            "text": {"field": "tekst"}
          }
        },
        {
          "data": {"values": [{"tekst": "Gjennomsnittlig boltavstand uten Sfr", "q": 28.6, "esr": 4.78}]},
          "mark": {"type": "text", "font": "DejaVu Sans", "fontSize": 21, "color": "#2b2b2b", "angle": 333, "align": "center", "baseline": "middle"},
          "encoding": {
            "x": {"field": "q", "type": "quantitative", "scale": {"type": "log", "domain": [0.001, 1000], "nice": false}, "title": null},
            "y": {"field": "esr", "type": "quantitative", "scale": {"type": "log", "domain": [1, 100], "nice": false}, "axis": null},
            "text": {"field": "tekst"}
          }
        },
        {
          "data": {"name": "avstander"},
          "mark": {"type": "text", "font": "DejaVu Sans", "fontSize": 18, "color": "#3a3a3a", "align": "center", "baseline": "middle"},
          "encoding": {
            "x": {"field": "q", "type": "quantitative", "scale": {"type": "log", "domain": [0.001, 1000], "nice": false}, "title": null},
            "y": {"field": "esr", "type": "quantitative", "scale": {"type": "log", "domain": [1, 100], "nice": false}, "axis": null},
            "text": {"field": "tekst"}
          }
        },
        {
          "data": {"values": [{"tekst": "25 cm", "q": 0.081, "esr": 25.3}]},
          "mark": {"type": "text", "font": "DejaVu Sans", "fontSize": 22, "color": "#4a3434", "angle": 332, "align": "center", "baseline": "middle"},
          "encoding": {
            "x": {"field": "q", "type": "quantitative", "scale": {"type": "log", "domain": [0.001, 1000], "nice": false}, "title": null},
            "y": {"field": "esr", "type": "quantitative", "scale": {"type": "log", "domain": [1, 100], "nice": false}, "axis": null},
            "text": {"field": "tekst"}
          }
        },
        {
          "data": {"values": [
            {"tekst": "15 cm", "q": 0.307, "esr": 24.3},
            {"tekst": "12 cm", "q": 0.873, "esr": 25.0},
            {"tekst": "9 cm", "q": 3.08, "esr": 24.5},
            {"tekst": "6 cm", "q": 9.2, "esr": 25.0}
          ]},
          "mark": {"type": "text", "font": "DejaVu Sans", "fontSize": 22, "color": "#4a3434", "angle": 318, "align": "center", "baseline": "middle"},
          "encoding": {
            "x": {"field": "q", "type": "quantitative", "scale": {"type": "log", "domain": [0.001, 1000], "nice": false}, "title": null},
            "y": {"field": "esr", "type": "quantitative", "scale": {"type": "log", "domain": [1, 100], "nice": false}, "axis": null},
            "text": {"field": "tekst"}
          }
        },
        {
          "data": {"values": [{"tekst": "5 cm", "q": 53.7, "esr": 23.4}]},
          "mark": {"type": "text", "font": "DejaVu Sans", "fontSize": 22, "color": "#4a3434", "angle": 302, "align": "center", "baseline": "middle"},
          "encoding": {
            "x": {"field": "q", "type": "quantitative", "scale": {"type": "log", "domain": [0.001, 1000], "nice": false}, "title": null},
            "y": {"field": "esr", "type": "quantitative", "scale": {"type": "log", "domain": [1, 100], "nice": false}, "axis": null},
            "text": {"field": "tekst"}
          }
        },
        {
          "data": {"name": "energi"},
          "mark": {"type": "text", "font": "DejaVu Sans", "fontSize": 22, "color": "#2b2b2b", "angle": 328, "align": "center", "baseline": "middle"},
          "encoding": {
            "x": {"field": "q", "type": "quantitative", "scale": {"type": "log", "domain": [0.001, 1000], "nice": false}, "title": null},
            "y": {"field": "esr", "type": "quantitative", "scale": {"type": "log", "domain": [1, 100], "nice": false}, "axis": null},
            "text": {"field": "tekst"}
          }
        },
        {
          "data": {"name": "rrs_avstand"},
          "mark": {"type": "text", "font": "Liberation Sans", "fontSize": 19, "color": "#2e2222", "angle": 270, "align": "left", "baseline": "middle"},
          "encoding": {
            "x": {"field": "q", "type": "quantitative", "scale": {"type": "log", "domain": [0.001, 1000], "nice": false}, "title": null},
            "y": {"datum": 3.05, "type": "quantitative", "scale": {"type": "log", "domain": [1, 100], "nice": false}, "axis": null},
            "text": {"field": "tekst"}
          }
        },
        {
          "data": {"name": "rrs"},
          "mark": {"type": "rect", "fill": "#ffffff", "stroke": "#555555", "strokeWidth": 1.5, "xOffset": 14, "x2Offset": -14},
          "encoding": {
            "x": {"field": "q1", "type": "quantitative", "scale": {"type": "log", "domain": [0.001, 1000], "nice": false}, "title": null},
            "x2": {"field": "q2"},
            "y": {"datum": 10.68, "type": "quantitative", "scale": {"type": "log", "domain": [1, 100], "nice": false}, "axis": null},
            "y2": {"datum": 13.0}
          }
        },
        {
          "data": {"name": "rrs"},
          "mark": {"type": "point", "shape": "M 0.8 -0.525 L 0.3 -0.525 L 0.3 -1 L -0.3 0 L 0.3 1 L 0.3 0.525 L 0.8 0.525", "filled": true, "fill": "#ffffff", "stroke": "#555555", "strokeWidth": 1.5, "size": 1600, "xOffset": 6, "opacity": 1},
          "encoding": {
            "x": {"field": "q1", "type": "quantitative", "scale": {"type": "log", "domain": [0.001, 1000], "nice": false}, "title": null},
            "y": {"datum": 11.8, "type": "quantitative", "scale": {"type": "log", "domain": [1, 100], "nice": false}, "axis": null}
          }
        },
        {
          "data": {"name": "rrs"},
          "mark": {"type": "point", "shape": "M -0.8 -0.525 L -0.3 -0.525 L -0.3 -1 L 0.3 0 L -0.3 1 L -0.3 0.525 L -0.8 0.525", "filled": true, "fill": "#ffffff", "stroke": "#555555", "strokeWidth": 1.5, "size": 1600, "xOffset": -6, "opacity": 1},
          "encoding": {
            "x": {"field": "q2", "type": "quantitative", "scale": {"type": "log", "domain": [0.001, 1000], "nice": false}, "title": null},
            "y": {"datum": 11.8, "type": "quantitative", "scale": {"type": "log", "domain": [1, 100], "nice": false}, "axis": null}
          }
        },
        {
          "data": {"name": "rrs"},
          "mark": {"type": "text", "font": "DejaVu Sans", "fontWeight": "bold", "fontSize": 17, "color": "#333333", "align": "center", "baseline": "middle"},
          "encoding": {
            "x": {"field": "qm", "type": "quantitative", "scale": {"type": "log", "domain": [0.001, 1000], "nice": false}, "title": null},
            "y": {"datum": 11.8, "type": "quantitative", "scale": {"type": "log", "domain": [1, 100], "nice": false}, "axis": null},
            "text": {"field": "navn"}
          }
        },
        {
          "data": {"name": "soner"},
          "mark": {"type": "point", "shape": "circle", "filled": true, "fill": "#ffffff", "stroke": "#222222", "strokeWidth": 1.8, "size": 729, "opacity": 1},
          "encoding": {
            "x": {"field": "q", "type": "quantitative", "scale": {"type": "log", "domain": [0.001, 1000], "nice": false}, "title": null},
            "y": {"field": "esr", "type": "quantitative", "scale": {"type": "log", "domain": [1, 100], "nice": false}, "axis": null}
          }
        },
        {
          "data": {"name": "soner"},
          "mark": {"type": "text", "font": "DejaVu Sans", "fontSize": 20, "color": "#111111", "align": "center", "baseline": "middle", "dy": 1},
          "encoding": {
            "x": {"field": "q", "type": "quantitative", "scale": {"type": "log", "domain": [0.001, 1000], "nice": false}, "title": null},
            "y": {"field": "esr", "type": "quantitative", "scale": {"type": "log", "domain": [1, 100], "nice": false}, "axis": null},
            "text": {"field": "nr"}
          }
        },
        {
          "data": {"name": "punkter"},
          "mark": {"type": "point", "shape": "diamond", "filled": true, "stroke": "#000000", "strokeWidth": 1, "size": 225, "opacity": 1},
          "encoding": {
            "x": {"field": "q", "type": "quantitative", "scale": {"type": "log", "domain": [0.001, 1000], "nice": false}, "title": null},
            "y": {"field": "esr", "type": "quantitative", "scale": {"type": "log", "domain": [1, 100], "nice": false}, "title": null,
              "axis": {"orient": "left", "values": [1, 2, 3, 5, 10, 20, 50], "format": "d", "grid": false, "domain": false, "ticks": true, "tickColor": "#555555", "tickWidth": 1.5, "tickSize": 13, "labelPadding": 4, "labelFont": "DejaVu Sans", "labelFontSize": 22, "labelColor": "#444444", "labelFlush": false, "labelOverlap": false, "title": null}},
            "color": {
              "field": "serie",
              "type": "nominal",
              "scale": {
                "domain": ["Q-systemet (Palmstrøm 2002)", "Q-slope", "Q-slope mhp. planutglidning", "Q-slope mhp. kileutglidning"],
                "range": ["#2e18f2", "#ff2418", "#ff1ee4", "#1ef01e"]
              },
              "legend": {"orient": "none", "legendX": 369, "legendY": 721, "title": null, "symbolType": "diamond", "symbolSize": 170, "symbolStrokeColor": "#000000", "symbolStrokeWidth": 1, "symbolOpacity": 1, "labelFont": "Liberation Sans", "labelFontSize": 23, "labelColor": "#1a1a1a", "rowPadding": 6, "padding": 0, "labelOffset": 1, "labelLimit": 500}
            }
          }
        }
      ]
    }
  ]
}
